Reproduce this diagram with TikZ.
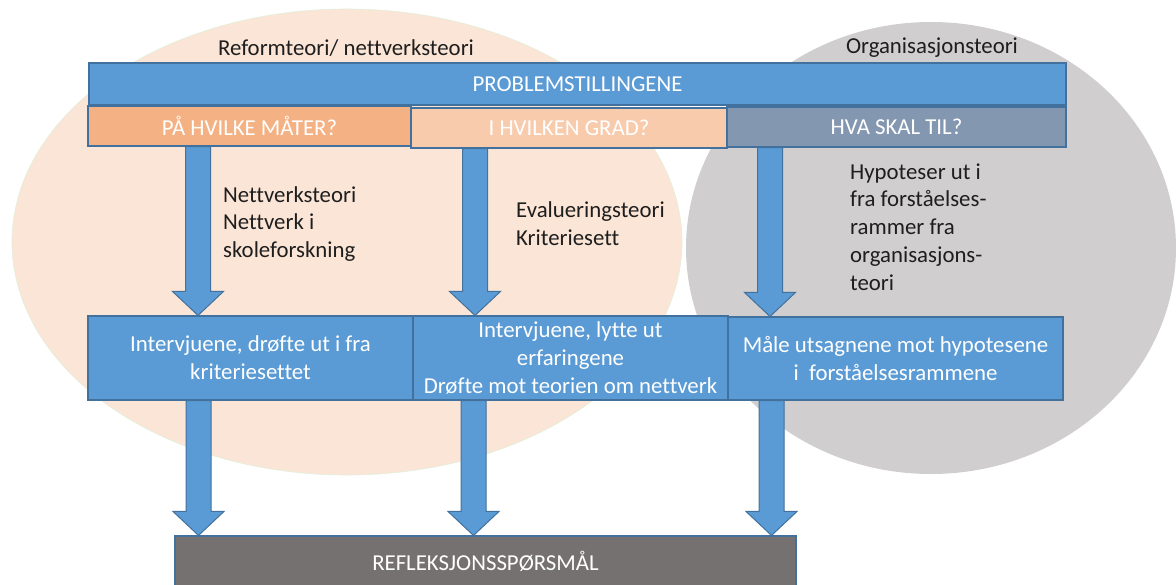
\documentclass[tikz,border=0pt]{standalone}
\usepackage{fontspec}
\setmainfont{Carlito}[Ligatures=NoCommon]
\usetikzlibrary{calc}
\definecolor{bluefill}{HTML}{5B9BD5}
\definecolor{blueline}{HTML}{41719C}
\definecolor{peach}{HTML}{FBE5D6}
\definecolor{peachedge}{HTML}{E2EFDA}
\definecolor{greyell}{HTML}{D0CECE}
\definecolor{subA}{HTML}{F4B183}
\definecolor{subB}{HTML}{F8CBAD}
\definecolor{subC}{HTML}{8497B0}
\definecolor{reflgrey}{HTML}{767171}
\definecolor{darktext}{HTML}{1E1E1E}
\begin{document}
\begin{tikzpicture}[x=1pt,y=-1pt,
  txt/.style={font=\fontsize{22.8}{27.8}\selectfont, inner sep=0pt},
  box/.style={txt, draw=blueline, fill=bluefill, line width=1.1pt, text=white, align=center},
  label/.style={txt, text=darktext, align=left},
  blockarr/.style={draw=blueline, fill=bluefill, line width=1pt,
    to path={let \p1=(\tikztostart), \p2=(\tikztotarget) in
      (\x1-12.5pt,\y1) -- (\x1+12.5pt,\y1) -- (\x1+12.5pt,\y2+24pt) -- (\x1+25.5pt,\y2+24pt)
      -- (\x1,\y2) -- (\x1-25.5pt,\y2+24pt) -- (\x1-12.5pt,\y2+24pt) -- cycle}}
]
\useasboundingbox (0,0) rectangle (1176,584);
% background ellipses
\fill[peach] (347,242) ellipse [x radius=335, y radius=233];
\draw[peachedge, line width=0.6pt] (347,242) ellipse [x radius=335, y radius=233];
\fill[greyell] (931,248) ellipse [x radius=245, y radius=226];

% titles of ellipses
\node[txt, text=darktext] (reform) at (346,48) {Reformteori/ nettverksteori};
\node[txt, text=darktext] (org) at (932,48) {Organisasjonsteori};

% top boxes
\node[box, minimum width=977pt, minimum height=42pt] (prob) at (577.5,84) {PROBLEMSTILLINGENE};
\node[box, fill=subA, minimum width=323pt, minimum height=40pt] (pa) at (249.5,126) {PÅ HVILKE MÅTER?};
\node[box, fill=subB, minimum width=316pt, minimum height=40pt] (ig) at (569,128) {I HVILKEN GRAD?};
\node[box, fill=subC, minimum width=339pt, minimum height=40pt] (hva) at (896.5,127) {HVA SKAL TIL?};

% middle boxes
\node[box, minimum width=325pt, minimum height=84pt] (b1) at (250.5,358) {Intervjuene, drøfte ut i fra\\kriteriesettet};
\node[box, minimum width=315pt, minimum height=84pt] (b2) at (570.5,358) {Intervjuene, lytte ut\\erfaringene\\Drøfte mot teorien om nettverk};
\node[box, minimum width=335pt, minimum height=83pt] (b3) at (895.5,358.5) {Måle utsagnene mot hypotesene\\i\ \ forståelsesrammene};

% bottom box
\node[box, fill=reflgrey, minimum width=621pt, minimum height=50pt] (refl) at (485.5,561) {REFLEKSJONSSPØRSMÅL};

% side labels
\node[label, anchor=west] (l1) at (223,224) {Nettverksteori\\Nettverk i\\skoleforskning};
\node[label, anchor=west] (l2) at (516,224) {Evalueringsteori\\Kriteriesett};
\node[label, anchor=west] (l3) at (850,227) {Hypoteser ut i\\fra forståelses-\\rammer fra\\organisasjons-\\teori};

% arrow axes
\coordinate (ax1) at (198,0);
\coordinate (ax2) at (475,0);
\coordinate (ax3) at (770,0);
\coordinate (bx1) at (198.5,0);
\coordinate (bx2) at (473.5,0);
\coordinate (bx3) at (771.5,0);

% block arrows
\draw[blockarr] (pa.south -| ax1) to (b1.north -| ax1);
\draw[blockarr] (ig.south -| ax2) to (b2.north -| ax2);
\draw[blockarr] (hva.south -| ax3) to (b3.north -| ax3);
\draw[blockarr] (b1.south -| bx1) to (refl.north -| bx1);
\draw[blockarr] (b2.south -| bx2) to (refl.north -| bx2);
\draw[blockarr] (b3.south -| bx3) to (refl.north -| bx3);
\end{tikzpicture}
\end{document}
